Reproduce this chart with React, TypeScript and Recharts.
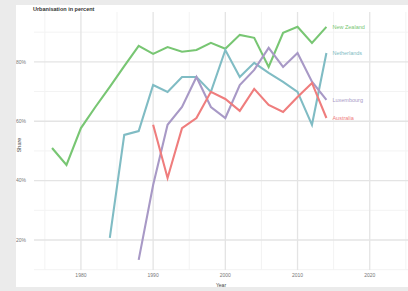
import { CartesianGrid, Line, LineChart, XAxis, YAxis } from 'recharts';

const years = [1976, 1978, 1980, 1982, 1984, 1986, 1988, 1990, 1992, 1994, 1996, 1998, 2000, 2002, 2004, 2006, 2008, 2010, 2012, 2014];
const newZealand = [51.0, 45.3, 57.7, 64.8, 71.6, 78.6, 85.4, 82.7, 85.0, 83.4, 84.0, 86.4, 84.4, 89.1, 88.1, 78.3, 89.8, 91.8, 86.4, 91.8];
const netherlands = [null, null, null, null, 20.7, 55.4, 56.7, 72.2, 69.9, 74.9, 74.9, 69.9, 84.0, 74.9, 79.7, 76.3, 73.3, 69.9, 58.8, 83.0];
const luxembourg = [null, null, null, null, null, null, 13.3, 38.5, 58.8, 64.8, 74.9, 64.8, 61.1, 72.2, 77.3, 84.7, 78.3, 83.0, 73.3, 67.2];
const australia = [null, null, null, null, null, null, null, 58.8, 40.9, 57.7, 61.1, 69.9, 67.5, 63.5, 70.9, 65.5, 63.1, 68.2, 72.9, 61.1];

const xTicks = [1980, 1990, 2000, 2010, 2020];
const xMinor = [1975, 1985, 1995, 2005, 2015, 2025];
const yTicks = [20, 40, 60, 80];
const yMinor = [10, 30, 50, 70, 90];

const series = [
  { key: 'nz', name: 'New Zealand', values: newZealand, color: '#78c673' },
  { key: 'nl', name: 'Netherlands', values: netherlands, color: '#80bcc4' },
  { key: 'lu', name: 'Luxembourg', values: luxembourg, color: '#a899c6' },
  { key: 'au', name: 'Australia', values: australia, color: '#ef7d7d' },
];

const rows = years.map((year, i) => {
  const row: Record<string, number | null> = { year };
  series.forEach((s) => {
    row[s.key] = s.values[i];
  });
  return row;
});

const font = '"Liberation Sans", Arial, sans-serif';

function endLabel(name: string, color: string, last: number) {
  return (props: any) => {
    const { x, y, index } = props;
    if (index !== last) return null;
    return (
      <text x={x + 6} y={y} dy={2} fontSize={5.5} fill={color} fontFamily={font}>
        {name}
      </text>
    );
  };
}

export default function App() {
  return (
    <div style={{ position: 'fixed', left: 0, top: 0, width: 408, height: 291, background: '#ebebeb' }}>
      <div style={{ position: 'absolute', left: 16, top: 5, width: 392, height: 282, background: '#fff', fontFamily: font }}>
        <LineChart width={392} height={282} data={rows} margin={{ top: 7, right: 0, bottom: 0, left: 0 }}>
          <CartesianGrid stroke="#f3f3f3" strokeWidth={1} horizontalValues={yMinor} verticalValues={xMinor} />
          <CartesianGrid stroke="#e4e4e4" strokeWidth={1.3} horizontalValues={yTicks} verticalValues={xTicks} />
          <XAxis
            dataKey="year"
            type="number"
            domain={[1973.5, 2025.3]}
            ticks={xTicks}
            axisLine={false}
            tickLine={false}
            tickSize={3}
            height={17}
            tickMargin={0}
            tick={{ fill: '#777', fontSize: 5, fontFamily: font }}
            label={{ value: 'Year', position: 'insideBottom', offset: 0.5, fill: '#444', fontSize: 5, fontFamily: font }}
          />
          <YAxis
            type="number"
            domain={[9.9, 96.8]}
            ticks={yTicks}
            tickFormatter={(v: number) => `${v}%`}
            axisLine={false}
            tickLine={false}
            width={18}
            tickMargin={2}
            tick={{ fill: '#777', fontSize: 5, fontFamily: font }}
          />
          {series.map((s) => (
            <Line
              key={s.key}
              dataKey={s.key}
              name={s.name}
              stroke={s.color}
              strokeWidth={2.1}
              dot={false}
              isAnimationActive={false}
              label={endLabel(s.name, s.color, years.length - 1)}
            />
          ))}
        </LineChart>
        <div style={{ position: 'absolute', left: 17, top: 1, fontSize: 5.5, fontWeight: 'bold', color: '#333', whiteSpace: 'nowrap' }}>
          Urbanisation in percent
        </div>
        <div
          style={{
            position: 'absolute',
            left: -7,
            top: 137,
            width: 20,
            fontSize: 5.5,
            color: '#444',
            textAlign: 'center',
            transform: 'rotate(-90deg)',
          }}
        >
          Share
        </div>
      </div>
    </div>
  );
}
